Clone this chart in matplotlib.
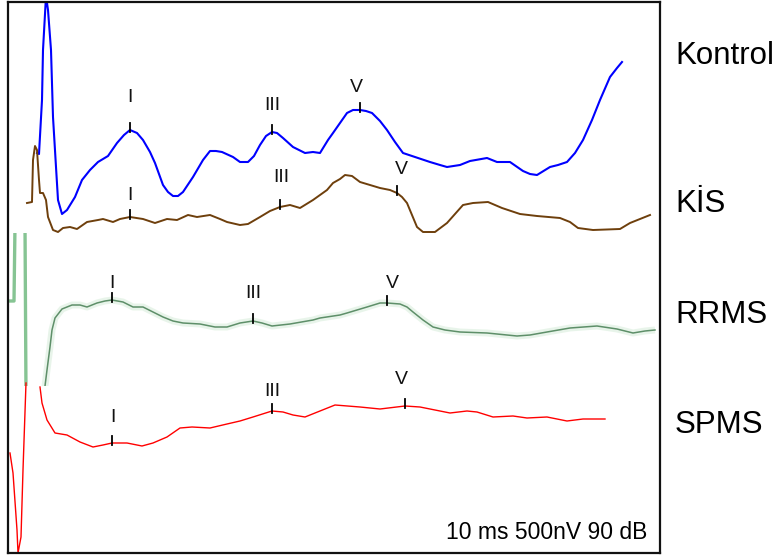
import matplotlib

matplotlib.use("Agg")
import matplotlib.pyplot as plt  # noqa: E402
import numpy as np  # noqa: E402

plt.rcParams["font.family"] = ["Liberation Sans", "DejaVu Sans"]

# traces (x: sweep position, y: vertical position, downwards)
kontrol_x = [37, 39, 42, 43, 46, 48, 51, 53, 56, 58, 62, 67, 75, 82, 90, 98, 108, 117, 124, 130,
             137, 143, 150, 155, 163, 168, 173, 178, 183, 193, 203, 210, 216, 222, 233, 240, 248,
             254, 260, 266, 272, 277, 283, 293, 305, 313, 320, 328, 333, 340, 347, 353, 360, 366,
             372, 380, 387, 395, 403, 415, 430, 440, 447, 460, 470, 487, 497, 510, 523, 530, 537,
             550, 558, 567, 575, 583, 592, 600, 610, 617, 622]
kontrol_y = [153, 154, 100, 50, -4, 10, 50, 117, 167, 200, 214, 210, 197, 180, 170, 162, 156, 143,
             135, 130, 133, 140, 152, 163, 185, 192, 196, 196, 192, 177, 160, 151, 151, 152, 157,
             162, 162, 156, 145, 136, 132, 133, 138, 147, 153, 152, 153, 140, 133, 123, 113, 110,
             110, 111, 113, 121, 130, 142, 153, 157, 162, 165, 167, 165, 161, 158, 162, 162, 171,
             174, 175, 167, 165, 162, 153, 140, 120, 100, 77, 68, 62]

kis_x = [27, 32, 33, 35, 37, 39, 40, 43, 46, 48, 53, 58, 63, 70, 77, 87, 98, 103, 113, 120, 130,
         143, 155, 167, 177, 188, 197, 210, 220, 227, 240, 248, 260, 270, 280, 290, 300, 313, 327,
         333, 340, 345, 352, 360, 370, 380, 390, 397, 402, 407, 412, 417, 423, 435, 447, 455, 463,
         473, 488, 502, 520, 537, 560, 570, 578, 593, 620, 630, 640, 650]
kis_y = [203, 202, 160, 146, 150, 180, 193, 193, 200, 217, 230, 232, 228, 227, 229, 222, 220, 219,
         222, 219, 217, 219, 223, 219, 220, 215, 217, 215, 219, 222, 225, 224, 217, 211, 207, 205,
         208, 200, 190, 183, 179, 175, 176, 182, 185, 188, 190, 193, 197, 203, 215, 227, 232, 232,
         223, 214, 205, 203, 202, 208, 214, 216, 218, 222, 228, 230, 229, 223, 219, 215]

# first six points are the stimulus artefact
rrms_x = [9, 14, 15, 25, 26, 44, 45, 47, 50, 52, 55, 62, 72, 80, 87, 97, 105, 112, 123, 133, 143,
          153, 163, 173, 183, 200, 215, 227, 240, 253, 262, 272, 290, 313, 320, 340, 347, 367, 380,
          387, 400, 407, 413, 423, 433, 445, 460, 487, 517, 530, 547, 570, 597, 617, 633, 645, 655]
rrms_y = [301, 301, 225, 225, 395, 395, 386, 370, 347, 330, 318, 309, 305, 305, 307, 303, 301, 300,
          302, 307, 307, 312, 317, 321, 323, 324, 327, 327, 323, 321, 323, 326, 324, 320, 318, 315,
          313, 307, 303, 303, 304, 307, 312, 320, 327, 330, 332, 333, 336, 335, 332, 328, 326, 329,
          333, 331, 330]

spms_x = [10, 13, 17, 18, 21, 23, 26, np.nan, 40, 42, 47, 55, 67, 80, 93, 103, 112, 127, 142, 153,
          167, 180, 192, 210, 227, 240, 253, 272, 283, 293, 305, 320, 335, 360, 380, 405, 420, 450,
          467, 477, 493, 513, 527, 547, 567, 583, 605]
spms_y = [453, 473, 530, 553, 537, 470, 383, np.nan, 387, 403, 420, 433, 435, 442, 447, 445, 443,
          443, 446, 443, 437, 428, 427, 428, 424, 421, 417, 411, 412, 415, 417, 411, 405, 407, 409,
          406, 407, 413, 411, 412, 417, 416, 418, 417, 421, 419, 419]

group_names = ["Kontrol", "KİS", "RRMS", "SPMS"]
wave_names = ["I", "III", "V"]

# peak marks: latency position and trace level at the mark
kontrol_peaks = [(130, 130), (272, 132), (360, 110)]
kis_peaks = [(130, 217), (280, 207), (397, 193)]
rrms_peaks = [(112, 300), (253, 321), (387, 303)]
spms_peaks = [(112, 443), (272, 411), (405, 406)]

# where the roman numerals sit
kontrol_lbl = [(130, 98), (272, 106), (356, 87)]
kis_lbl = [(130, 195), (281, 177), (401, 169)]
rrms_lbl = [(112, 283), (253, 293), (392, 284)]
spms_lbl = [(113, 417), (272, 392), (401, 380)]

name_y = [56, 204, 315, 425]
footer = "10 ms 500nV 90 dB"

fig = plt.figure(figsize=(7.77, 5.60), dpi=100)
ax = fig.add_axes([8 / 777, 7 / 560, 652 / 777, 551 / 560])
ax.set_xlim(8, 660)
ax.set_ylim(553, 2)
ax.set_xticks([])
ax.set_yticks([])
for sp in ax.spines.values():
    sp.set_linewidth(1.6)
    sp.set_color("#111111")

green_dark = "#5e8f69"
green_light = "#86c493"

ax.plot(kontrol_x, kontrol_y, color="#0000ff", lw=1.5, solid_joinstyle="round")
ax.plot(kis_x, kis_y, color="#6e3f0c", lw=1.4, solid_joinstyle="round")
ax.plot(rrms_x[5:], rrms_y[5:], color="#d9eedc", lw=5, alpha=0.6, solid_capstyle="butt")
ax.plot(rrms_x[:6], rrms_y[:6], color=green_light, lw=2.4)
ax.plot(rrms_x[5:], rrms_y[5:], color=green_dark, lw=1.1)
ax.plot(spms_x, spms_y, color="#ff0000", lw=1.0)

# the green panel is clipped to its own strip
for ln in ax.lines[2:5]:
    ln.set_clip_path(plt.Rectangle((9, 233), 650, 153, transform=ax.transData))

for peaks, lbls in [(kontrol_peaks, kontrol_lbl), (kis_peaks, kis_lbl),
                    (rrms_peaks, rrms_lbl), (spms_peaks, spms_lbl)]:
    for (px, py), (lx, ly), w in zip(peaks, lbls, wave_names):
        ax.plot([px, px], [py - 7, py + 2], color="black", lw=1.3)
        ax.text(lx, ly, w, ha="center", va="center", fontsize=14, color="#111111")

for nm, y in zip(group_names, name_y):
    ax.text(675, y, nm, ha="left", va="center", fontsize=22.5, color="black")

ax.text(647, 539, footer, ha="right", va="baseline", fontsize=16.5, color="black")

fig.savefig("out.png", dpi=100)
